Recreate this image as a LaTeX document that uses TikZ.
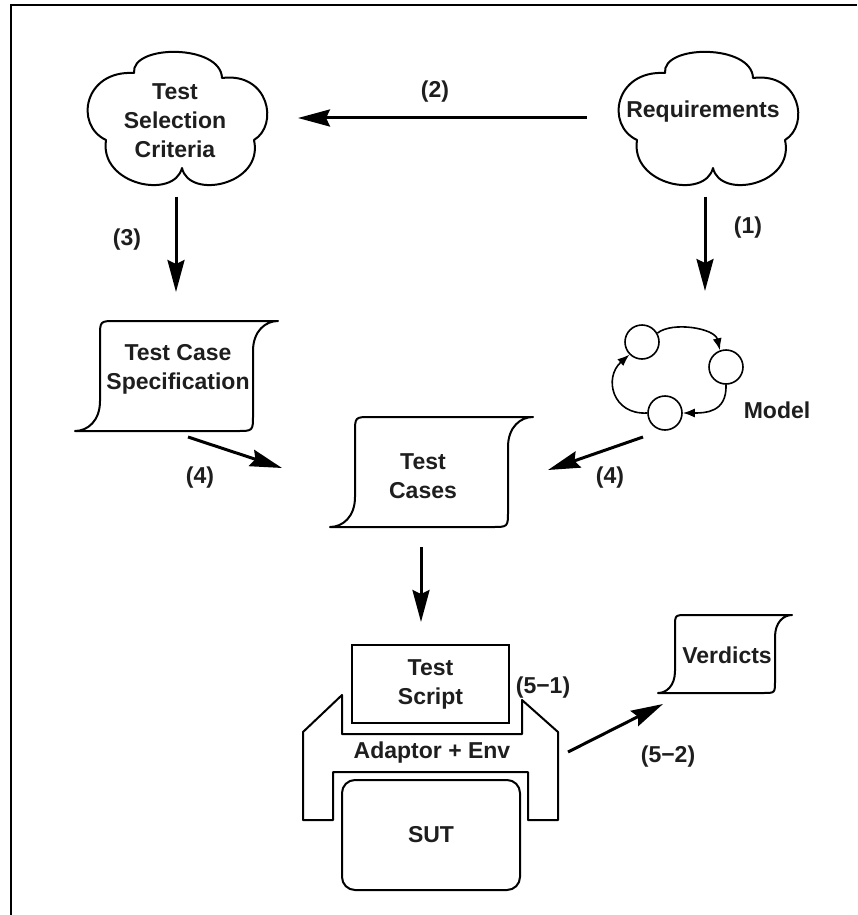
\documentclass[tikz,border=0pt]{standalone}
\usepackage{fontspec}
\setmainfont{Liberation Sans}
\usetikzlibrary{arrows.meta,calc}
\definecolor{ink}{HTML}{1E1E1E}

% cloud outline, shifted by (#1,#2)
\newcommand\cloudoutline[2]{%
  \draw[outline,shift={(#1,#2)}] (665,73) .. controls (662,44) and (752,44) .. (753,78)
    .. controls (800,72) and (810,125) .. (785,140)
    .. controls (795,185) and (720,200) .. (713,168)
    .. controls (705,200) and (630,185) .. (637,140)
    .. controls (605,125) and (615,70) .. cycle;}

% document outline: left, top, right, bottom, flare, corner, flare height
\newcommand\docshape[7]{%
  \draw[outline] (#3,#2) -- ({#1+#5+#6},#2) .. controls ({#1+#5},#2) .. ({#1+#5},{#2+#6})
    -- ({#1+#5},{#4-#7}) .. controls ({#1+#5},{#4-#7/3}) and ({#1+#5/2},#4) .. (#1,#4)
    -- ({#3-#5-#6},#4) .. controls ({#3-#5},#4) .. ({#3-#5},{#4-#6})
    -- ({#3-#5},{#2+#7}) .. controls ({#3-#5},{#2+#7/3}) and ({#3-#5/2},#2) .. cycle;}

\begin{document}
\begin{tikzpicture}[x=1pt,y=-1pt,
  outline/.style={draw=black, line width=2pt, line join=round},
  flow/.style={draw=black, line width=3pt, -{Stealth[length=32pt,width=17pt,inset=4pt]}},
  small/.style={draw=black, line width=1.6pt, -{Latex[length=12pt,width=9pt]}},
  lbl/.style={font=\fontsize{23}{29}\selectfont\bfseries, text=ink, align=center, inner sep=0pt},
  box/.style={inner sep=0pt, outer sep=0pt},
  state/.style={circle, draw=black, line width=1.6pt, minimum size=34pt, inner sep=0pt},
]
\useasboundingbox (0,0) rectangle (857,915);
\fill[white] (0,0) rectangle (857,915);

% frame
\draw[line width=2.5pt] (11,915) -- (11,5) -- (857,5);

% clouds
\cloudoutline{0}{0}
\cloudoutline{-531}{0}
\node[box, minimum width=176pt, minimum height=135pt] (req) at (705,118) {};
\node[box, minimum width=178pt, minimum height=135pt] (tsc) at (176,118) {};
\node[lbl] (req-text) at (703,112) {Requirements};
\node[lbl] (tsc-text) at (175,121) {Test\\Selection\\Criteria};

% document shapes
\docshape{75}{321}{278}{431}{25}{16}{30}
\docshape{330}{417}{533}{527}{25}{16}{30}
\docshape{658}{615}{792}{693}{17}{12}{22}
\node[box, minimum width=203pt, minimum height=110pt] (tcs) at (176,376) {};
\node[box, minimum width=203pt, minimum height=110pt] (tc) at (431.5,472) {};
\node[box, minimum width=134pt, minimum height=78pt] (verd) at (725,654) {};
\node[lbl] (tcs-text) at (178,369) {Test Case\\Specification};
\node[lbl] (tc-text) at (423,476) {Test\\Cases};
\node[lbl] (verd-text) at (727,655) {Verdicts};

% model
\node[state] (c1) at (642,342) {};
\node[state] (c2) at (726,367) {};
\node[state] (c3) at (665,413) {};
\node[box, minimum width=140pt, minimum height=106pt] (model) at (675,377) {};
\node[lbl] (model-text) at (777,410) {Model};
\draw[small] (c1.30) .. controls +(15,-12) and +(-5,-22) .. (c2.110);
\draw[small] (c2.south) .. controls +(1,28) and +(22,0) .. (c3.east);
\draw[small] (c3.west) .. controls +(-35,2) and +(-26,23) .. (c1.225);

% test script, adaptor and SUT
\node[box, draw=black, line width=2pt, minimum width=157pt, minimum height=78pt, lbl] (ts) at (430.5,684) {Test\\Script};
\draw[outline] (303,732) -- (342,695) -- (342,734) -- (522,734) -- (522,700) -- (558,732)
  -- (558,820) -- (528,820) -- (528,772) -- (333,772) -- (333,820) -- (303,820) -- cycle;
\node[lbl] (adaptor) at (432,753) {Adaptor + Env};
\node[draw=black, line width=2pt, rounded corners=13pt, minimum width=178pt, minimum height=110pt, lbl] (sut) at (431,835) {SUT};

% connectors
\draw[flow, shorten <=30pt, shorten >=33pt] (req.west) -- (tsc.east);
\draw[flow, shorten <=11pt, shorten >=29pt] (tsc.south) -- (tcs.north);
\draw[flow, shorten <=11pt, shorten >=33pt] (req.south) -- (req.south |- model.north);
\coordinate (l4s) at (188,437); \coordinate (l4e) at (282,468);
\coordinate (r4s) at (643,437); \coordinate (r4e) at (548,470);
\coordinate (tcs-out) at (421,547); \coordinate (ts-in) at (421,622);
\coordinate (ad-out) at (568,752); \coordinate (verd-in) at (663,704);
\draw[flow] (l4s) -- (l4e);
\draw[flow] (r4s) -- (r4e);
\draw[flow] (tcs-out) -- (ts-in);
\draw[flow] (ad-out) -- (verd-in);

% step labels
\node[lbl] (n2) at (435,92) {(2)};
\node[lbl] (n3) at (127,240) {(3)};
\node[lbl] (n1) at (748,228) {(1)};
\node[lbl] (n4l) at (200,478) {(4)};
\node[lbl] (n4r) at (610,478) {(4)};
\node[lbl] (n51) at (543,688) {(5−1)};
\node[lbl] (n52) at (668,757) {(5−2)};
\end{tikzpicture}
\end{document}
